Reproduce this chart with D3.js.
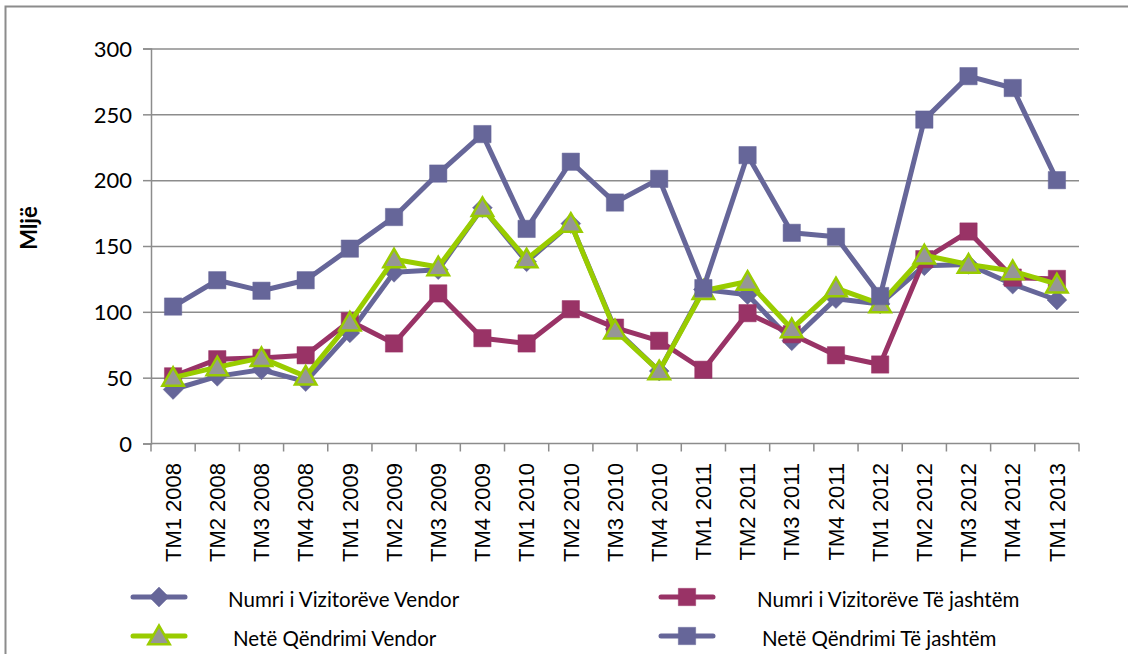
<!DOCTYPE html>
<html>
<head>
<meta charset="utf-8">
<script src="https://cdn.jsdelivr.net/npm/d3@7"></script>
<style>
  body { margin: 0; background: #fff; }
  .grid line { stroke: #8c8c8c; stroke-width: 1.5; }
  .grid path { display: none; }
  .axis path, .axis line { stroke: #8c8c8c; stroke-width: 1.5; }
  .ytick text { font-family: Lato, "Open Sans", sans-serif; font-size: 22px; fill: #000; }
  .xlab { font-family: "Liberation Sans", Arial, sans-serif; font-size: 22px; fill: #000; }
  .legend text { font-family: Lato, "Open Sans", sans-serif; font-size: 20.5px; fill: #000; }
  .line { fill: none; stroke-width: 5; stroke-linejoin: round; }
</style>
</head>
<body>
<svg id="chart" width="1128" height="654"></svg>
<script>
// categories (quarters)
const categories = [
  "TM1 2008", "TM2 2008", "TM3 2008", "TM4 2008",
  "TM1 2009", "TM2 2009", "TM3 2009", "TM4 2009",
  "TM1 2010", "TM2 2010", "TM3 2010", "TM4 2010",
  "TM1 2011", "TM2 2011", "TM3 2011", "TM4 2011",
  "TM1 2012", "TM2 2012", "TM3 2012", "TM4 2012",
  "TM1 2013"
];

// series values (thousands)
const vizitoreVendor  = [41, 51, 56, 47, 84, 130, 132, 179, 138, 167, 87, 55, 117, 113, 78, 110, 106, 135, 136, 121, 109];
const vizitoreJashtem = [51, 64, 65, 67, 93, 76, 114, 80, 76, 102, 88, 78, 56, 99, 83, 67, 60, 140, 161, 126, 125];
const neteVendor      = [50, 58, 65, 51, 92, 140, 134, 179, 140, 167, 86, 55, 116, 123, 87, 118, 106, 143, 136, 131, 121];
const neteJashtem     = [104, 124, 116, 124, 148, 172, 205, 235, 163, 214, 183, 201, 118, 219, 160, 157, 112, 246, 279, 270, 200];

const yTicks = [0, 50, 100, 150, 200, 250, 300];
const yTitle = "Mljë";

const series = [
  { name: "Numri i Vizitorëve Vendor", values: vizitoreVendor, color: "#666699", marker: "diamond" },
  { name: "Numri i Vizitorëve Të jashtëm", values: vizitoreJashtem, color: "#993366", marker: "square" },
  { name: "Netë Qëndrimi Vendor", values: neteVendor, color: "#99cc00", marker: "triangle" },
  { name: "Netë Qëndrimi Të jashtëm", values: neteJashtem, color: "#666699", marker: "square" }
];

const margin = { top: 48.5, right: 49, bottom: 210.5, left: 151 };
const width = 1128 - margin.left - margin.right;
const height = 654 - margin.top - margin.bottom;

const svg = d3.select("#chart");

// outer chart frame
svg.append("rect")
  .attr("x", 5.5).attr("y", 6.5)
  .attr("width", 1140).attr("height", 660)
  .attr("fill", "none").attr("stroke", "#8c8c8c").attr("stroke-width", 2);

const g = svg.append("g").attr("transform", `translate(${margin.left},${margin.top})`);

const x = d3.scaleBand().domain(categories).range([0, width]);
const y = d3.scaleLinear().domain([0, 300]).range([height, 0]);

// gridlines
g.append("g").attr("class", "grid")
  .call(d3.axisLeft(y).tickValues(yTicks.slice(1)).tickSize(-width).tickFormat(""));

// y axis
g.append("g").attr("class", "axis ytick")
  .call(d3.axisLeft(y).tickValues(yTicks).tickSize(8).tickPadding(11))
  .call(a => a.selectAll("text").attr("dy", "0.35em"));

// x axis line + ticks at category boundaries
const xAxis = g.append("g").attr("class", "axis").attr("transform", `translate(0,${height})`);
xAxis.append("line").attr("x1", 0).attr("x2", width).attr("y1", 0).attr("y2", 0);
xAxis.selectAll(".bt")
  .data(categories.map(c => x(c)).concat([width]))
  .join("line")
  .attr("x1", d => d).attr("x2", d => d)
  .attr("y1", 0).attr("y2", 8);

xAxis.selectAll(".xlab")
  .data(categories)
  .join("text")
  .attr("class", "xlab")
  .attr("text-anchor", "end")
  .attr("dy", "0.35em")
  .attr("transform", d => `translate(${x(d) + x.bandwidth() / 2},${19.5}) rotate(-90)`)
  .text(d => d);

// y title
svg.append("text")
  .attr("transform", "translate(29,228) rotate(-90)")
  .attr("text-anchor", "middle")
  .attr("dy", "0.35em")
  .style("font-family", "Lato, 'Open Sans', sans-serif")
  .style("font-weight", "bold")
  .style("font-size", "22px")
  .text(yTitle);

const symbols = {
  diamond: d3.symbol().type(d3.symbolDiamond2).size(250),
  square: d3.symbol().type(d3.symbolSquare).size(300),
  triangle: d3.symbol().type(d3.symbolTriangle).size(200)
};

function drawMarker(sel, s) {
  sel.append("path")
    .attr("d", symbols[s.marker]())
    .attr("fill", s.marker === "triangle" ? "#969696" : s.color)
    .attr("stroke", s.color)
    .attr("stroke-width", s.marker === "triangle" ? 2.5 : 0.5);
}

const line = d3.line()
  .x((d, i) => x(categories[i]) + x.bandwidth() / 2)
  .y(d => y(d));

series.forEach(s => {
  const sg = g.append("g");
  sg.append("path").datum(s.values)
    .attr("class", "line")
    .attr("stroke", s.color)
    .attr("d", line);
  sg.selectAll(".m")
    .data(s.values)
    .join("g")
    .attr("transform", (d, i) => `translate(${x(categories[i]) + x.bandwidth() / 2},${y(d) + (s.marker === "triangle" ? 2 : 0)})`)
    .each(function () { drawMarker(d3.select(this), s); });
});

// legend
const legendPos = [
  { lx: 133, tx: 228, ly: 597 },
  { lx: 661, tx: 757, ly: 597 },
  { lx: 133, tx: 233, ly: 636 },
  { lx: 661, tx: 762, ly: 636 }
];
const legend = svg.append("g").attr("class", "legend");
series.forEach((s, i) => {
  const p = legendPos[i];
  const lg = legend.append("g");
  lg.append("line")
    .attr("x1", p.lx).attr("x2", p.lx + 52)
    .attr("y1", p.ly).attr("y2", p.ly)
    .attr("stroke", s.color).attr("stroke-width", 5).attr("stroke-linecap", "round");
  const mg = lg.append("g").attr("transform", `translate(${p.lx + 26},${p.ly + (s.marker === "triangle" ? 2 : 0)})`);
  drawMarker(mg, s);
  lg.append("text")
    .attr("x", p.tx).attr("y", p.ly + 3)
    .attr("dy", "0.35em")
    .text(s.name);
});
</script>
</body>
</html>
